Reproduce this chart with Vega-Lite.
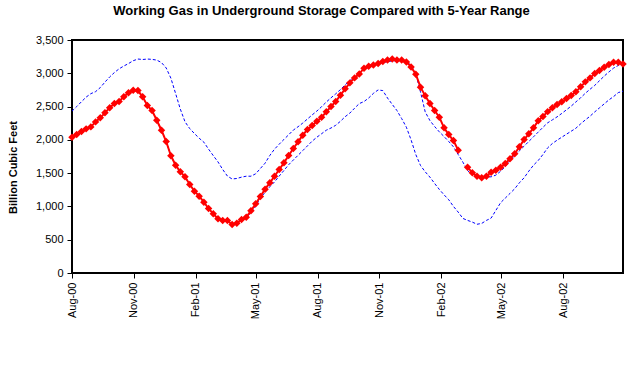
{
  "$schema": "https://vega.github.io/schema/vega-lite/v6.json",
  "width": 551,
  "height": 233,
  "autosize": "none",
  "padding": {"left": 72, "top": 40, "right": 16, "bottom": 93},
  "background": "white",
  "config": {
    "font": "Liberation Sans",
    "view": {"stroke": "#000000", "strokeWidth": 2},
    "axis": {
      "labelFont": "Liberation Sans", "labelFontSize": 11, "labelColor": "#000000",
      "tickColor": "#000000", "tickSize": 5, "tickWidth": 1, "domain": false, "grid": false,
      "titleFont": "Liberation Sans", "titleFontSize": 11, "titleFontWeight": "bold", "titleColor": "#000000"
    },
    "axisY": {"labelPadding": 4, "titlePadding": 17, "titleY": 127, "labelOverlap": false, "labelFlush": false},
    "axisX": {"labelPadding": 4}
  },
  "title": {
    "text": "Working Gas in Underground Storage Compared with 5-Year Range",
    "anchor": "middle", "frame": "group", "dx": -26, "offset": 16,
    "font": "Liberation Sans", "fontSize": 13, "fontWeight": "bold", "color": "#000000"
  },
  "datasets": {
    "w": [
      {"d": "2000-08-04", "gas": 2040, "hi": 2431, "lo": 2040},
      {"d": "2000-08-11", "gas": 2080, "hi": 2500, "lo": 2080},
      {"d": "2000-08-18", "gas": 2125, "hi": 2572, "lo": 2125},
      {"d": "2000-08-25", "gas": 2165, "hi": 2642, "lo": 2165},
      {"d": "2000-09-01", "gas": 2195, "hi": 2694, "lo": 2195},
      {"d": "2000-09-08", "gas": 2270, "hi": 2724, "lo": 2270},
      {"d": "2000-09-15", "gas": 2331, "hi": 2785, "lo": 2331},
      {"d": "2000-09-22", "gas": 2406, "hi": 2868, "lo": 2406},
      {"d": "2000-09-29", "gas": 2481, "hi": 2945, "lo": 2481},
      {"d": "2000-10-06", "gas": 2546, "hi": 3011, "lo": 2546},
      {"d": "2000-10-13", "gas": 2576, "hi": 3067, "lo": 2576},
      {"d": "2000-10-20", "gas": 2646, "hi": 3109, "lo": 2646},
      {"d": "2000-10-27", "gas": 2706, "hi": 3146, "lo": 2706},
      {"d": "2000-11-03", "gas": 2746, "hi": 3189, "lo": 2746},
      {"d": "2000-11-10", "gas": 2741, "hi": 3214, "lo": 2741},
      {"d": "2000-11-17", "gas": 2646, "hi": 3207, "lo": 2646},
      {"d": "2000-11-24", "gas": 2516, "hi": 3214, "lo": 2516},
      {"d": "2000-12-01", "gas": 2441, "hi": 3209, "lo": 2441},
      {"d": "2000-12-08", "gas": 2295, "hi": 3198, "lo": 2295},
      {"d": "2000-12-15", "gas": 2145, "hi": 3161, "lo": 2145},
      {"d": "2000-12-22", "gas": 1975, "hi": 3080, "lo": 1975},
      {"d": "2000-12-29", "gas": 1762, "hi": 2926, "lo": 1762},
      {"d": "2001-01-05", "gas": 1620, "hi": 2696, "lo": 1620},
      {"d": "2001-01-12", "gas": 1520, "hi": 2462, "lo": 1520},
      {"d": "2001-01-19", "gas": 1445, "hi": 2271, "lo": 1445},
      {"d": "2001-01-26", "gas": 1329, "hi": 2169, "lo": 1329},
      {"d": "2001-02-02", "gas": 1229, "hi": 2095, "lo": 1229},
      {"d": "2001-02-09", "gas": 1154, "hi": 2025, "lo": 1154},
      {"d": "2001-02-16", "gas": 1064, "hi": 1965, "lo": 1064},
      {"d": "2001-02-23", "gas": 969, "hi": 1860, "lo": 969},
      {"d": "2001-03-02", "gas": 889, "hi": 1763, "lo": 889},
      {"d": "2001-03-09", "gas": 814, "hi": 1669, "lo": 814},
      {"d": "2001-03-16", "gas": 789, "hi": 1555, "lo": 789},
      {"d": "2001-03-23", "gas": 789, "hi": 1456, "lo": 789},
      {"d": "2001-03-30", "gas": 729, "hi": 1412, "lo": 729},
      {"d": "2001-04-06", "gas": 749, "hi": 1420, "lo": 749},
      {"d": "2001-04-13", "gas": 804, "hi": 1440, "lo": 804},
      {"d": "2001-04-20", "gas": 839, "hi": 1454, "lo": 830},
      {"d": "2001-04-27", "gas": 934, "hi": 1454, "lo": 910},
      {"d": "2001-05-04", "gas": 1039, "hi": 1490, "lo": 1000},
      {"d": "2001-05-11", "gas": 1149, "hi": 1570, "lo": 1128},
      {"d": "2001-05-18", "gas": 1259, "hi": 1650, "lo": 1210},
      {"d": "2001-05-25", "gas": 1354, "hi": 1765, "lo": 1295},
      {"d": "2001-06-01", "gas": 1454, "hi": 1860, "lo": 1368},
      {"d": "2001-06-08", "gas": 1555, "hi": 1935, "lo": 1456},
      {"d": "2001-06-15", "gas": 1655, "hi": 2006, "lo": 1540},
      {"d": "2001-06-22", "gas": 1765, "hi": 2076, "lo": 1626},
      {"d": "2001-06-29", "gas": 1870, "hi": 2147, "lo": 1697},
      {"d": "2001-07-06", "gas": 1970, "hi": 2197, "lo": 1768},
      {"d": "2001-07-13", "gas": 2070, "hi": 2252, "lo": 1838},
      {"d": "2001-07-20", "gas": 2155, "hi": 2314, "lo": 1910},
      {"d": "2001-07-27", "gas": 2215, "hi": 2375, "lo": 1981},
      {"d": "2001-08-03", "gas": 2280, "hi": 2433, "lo": 2040},
      {"d": "2001-08-10", "gas": 2340, "hi": 2498, "lo": 2092},
      {"d": "2001-08-17", "gas": 2421, "hi": 2568, "lo": 2145},
      {"d": "2001-08-24", "gas": 2501, "hi": 2632, "lo": 2178},
      {"d": "2001-08-31", "gas": 2576, "hi": 2691, "lo": 2219},
      {"d": "2001-09-07", "gas": 2671, "hi": 2755, "lo": 2279},
      {"d": "2001-09-14", "gas": 2766, "hi": 2826, "lo": 2348},
      {"d": "2001-09-21", "gas": 2856, "hi": 2891, "lo": 2402},
      {"d": "2001-09-28", "gas": 2931, "hi": 2941, "lo": 2475},
      {"d": "2001-10-05", "gas": 2991, "hi": 3010, "lo": 2545},
      {"d": "2001-10-12", "gas": 3076, "hi": 3060, "lo": 2575},
      {"d": "2001-10-19", "gas": 3106, "hi": 3090, "lo": 2629},
      {"d": "2001-10-26", "gas": 3126, "hi": 3120, "lo": 2698},
      {"d": "2001-11-02", "gas": 3146, "hi": 3140, "lo": 2750},
      {"d": "2001-11-09", "gas": 3176, "hi": 3160, "lo": 2740},
      {"d": "2001-11-16", "gas": 3201, "hi": 3175, "lo": 2628},
      {"d": "2001-11-23", "gas": 3216, "hi": 3185, "lo": 2533},
      {"d": "2001-11-30", "gas": 3201, "hi": 3190, "lo": 2440},
      {"d": "2001-12-07", "gas": 3201, "hi": 3188, "lo": 2320},
      {"d": "2001-12-14", "gas": 3171, "hi": 3175, "lo": 2190},
      {"d": "2001-12-21", "gas": 3096, "hi": 3120, "lo": 2000},
      {"d": "2001-12-28", "gas": 2986, "hi": 2990, "lo": 1780},
      {"d": "2002-01-04", "gas": 2791, "hi": 2720, "lo": 1615},
      {"d": "2002-01-11", "gas": 2661, "hi": 2420, "lo": 1520},
      {"d": "2002-01-18", "gas": 2546, "hi": 2290, "lo": 1440},
      {"d": "2002-01-25", "gas": 2441, "hi": 2200, "lo": 1345},
      {"d": "2002-02-01", "gas": 2341, "hi": 2120, "lo": 1255},
      {"d": "2002-02-08", "gas": 2181, "hi": 2050, "lo": 1175},
      {"d": "2002-02-15", "gas": 2080, "hi": 1975, "lo": 1100},
      {"d": "2002-02-22", "gas": 1990, "hi": 1895, "lo": 1000},
      {"d": "2002-03-01", "gas": 1845, "hi": 1780, "lo": 915},
      {"d": "2002-03-08", "gas": null, "hi": 1665, "lo": 820},
      {"d": "2002-03-15", "gas": 1590, "hi": 1540, "lo": 790},
      {"d": "2002-03-22", "gas": 1505, "hi": 1468, "lo": 765},
      {"d": "2002-03-29", "gas": 1454, "hi": 1427, "lo": 732},
      {"d": "2002-04-05", "gas": 1430, "hi": 1418, "lo": 745},
      {"d": "2002-04-12", "gas": 1454, "hi": 1440, "lo": 790},
      {"d": "2002-04-19", "gas": 1514, "hi": 1445, "lo": 825},
      {"d": "2002-04-26", "gas": 1545, "hi": 1470, "lo": 940},
      {"d": "2002-05-03", "gas": 1590, "hi": 1528, "lo": 1055},
      {"d": "2002-05-10", "gas": 1645, "hi": 1598, "lo": 1125},
      {"d": "2002-05-17", "gas": 1715, "hi": 1688, "lo": 1195},
      {"d": "2002-05-24", "gas": 1792, "hi": 1765, "lo": 1265},
      {"d": "2002-05-31", "gas": 1895, "hi": 1835, "lo": 1355},
      {"d": "2002-06-07", "gas": 2005, "hi": 1905, "lo": 1430},
      {"d": "2002-06-14", "gas": 2090, "hi": 1976, "lo": 1530},
      {"d": "2002-06-21", "gas": 2181, "hi": 2046, "lo": 1620},
      {"d": "2002-06-28", "gas": 2288, "hi": 2117, "lo": 1690},
      {"d": "2002-07-05", "gas": 2350, "hi": 2188, "lo": 1780},
      {"d": "2002-07-12", "gas": 2424, "hi": 2256, "lo": 1880},
      {"d": "2002-07-19", "gas": 2481, "hi": 2300, "lo": 1945},
      {"d": "2002-07-26", "gas": 2531, "hi": 2345, "lo": 1995},
      {"d": "2002-08-02", "gas": 2571, "hi": 2397, "lo": 2040},
      {"d": "2002-08-09", "gas": 2621, "hi": 2452, "lo": 2085},
      {"d": "2002-08-16", "gas": 2666, "hi": 2507, "lo": 2130},
      {"d": "2002-08-23", "gas": 2721, "hi": 2570, "lo": 2175},
      {"d": "2002-08-30", "gas": 2796, "hi": 2631, "lo": 2240},
      {"d": "2002-09-06", "gas": 2871, "hi": 2700, "lo": 2300},
      {"d": "2002-09-13", "gas": 2931, "hi": 2760, "lo": 2355},
      {"d": "2002-09-20", "gas": 2996, "hi": 2818, "lo": 2420},
      {"d": "2002-09-27", "gas": 3041, "hi": 2888, "lo": 2480},
      {"d": "2002-10-04", "gas": 3091, "hi": 2957, "lo": 2540},
      {"d": "2002-10-11", "gas": 3131, "hi": 3020, "lo": 2600},
      {"d": "2002-10-18", "gas": 3166, "hi": 3078, "lo": 2650},
      {"d": "2002-10-25", "gas": 3166, "hi": 3118, "lo": 2710},
      {"d": "2002-11-01", "gas": 3141, "hi": 3135, "lo": 2731}
    ]
  },
  "data": {"name": "w"},
  "encoding": {
    "x": {
      "field": "d", "type": "temporal",
      "scale": {"type": "utc", "domain": [{"year": 2000, "month": 8, "date": 4, "utc": true}, {"year": 2002, "month": 11, "date": 1, "utc": true}]},
      "axis": {
        "title": null, "format": "%b-%y", "labelAngle": -90, "labelFlush": false, "labelOverlap": false,
        "values": [
          {"year": 2000, "month": 8, "date": 4, "utc": true},
          {"year": 2000, "month": 11, "date": 4, "utc": true},
          {"year": 2001, "month": 2, "date": 4, "utc": true},
          {"year": 2001, "month": 5, "date": 4, "utc": true},
          {"year": 2001, "month": 8, "date": 4, "utc": true},
          {"year": 2001, "month": 11, "date": 4, "utc": true},
          {"year": 2002, "month": 2, "date": 4, "utc": true},
          {"year": 2002, "month": 5, "date": 4, "utc": true},
          {"year": 2002, "month": 8, "date": 4, "utc": true}
        ]
      }
    }
  },
  "layer": [
    {
      "mark": {"type": "line", "color": "#0000FF", "strokeWidth": 1, "strokeDash": [3, 2]},
      "encoding": {"y": {"field": "hi", "type": "quantitative", "title": "Billion Cubic Feet",
        "scale": {"domain": [0, 3500], "nice": false, "zero": true},
        "axis": {"values": [0, 500, 1000, 1500, 2000, 2500, 3000, 3500], "format": ",d"}}}
    },
    {
      "mark": {"type": "line", "color": "#0000FF", "strokeWidth": 1, "strokeDash": [3, 2]},
      "encoding": {"y": {"field": "lo", "type": "quantitative", "title": "Billion Cubic Feet",
        "scale": {"domain": [0, 3500], "nice": false, "zero": true},
        "axis": {"values": [0, 500, 1000, 1500, 2000, 2500, 3000, 3500], "format": ",d"}}}
    },
    {
      "mark": {"type": "line", "color": "#FF0000", "strokeWidth": 2, "invalid": "break-paths-show-domains"},
      "encoding": {"y": {"field": "gas", "type": "quantitative", "title": "Billion Cubic Feet",
        "scale": {"domain": [0, 3500], "nice": false, "zero": true},
        "axis": {"values": [0, 500, 1000, 1500, 2000, 2500, 3000, 3500], "format": ",d"}}}
    },
    {
      "mark": {"type": "point", "shape": "diamond", "filled": true, "color": "#FF0000", "opacity": 1, "size": 56},
      "encoding": {"y": {"field": "gas", "type": "quantitative", "title": "Billion Cubic Feet",
        "scale": {"domain": [0, 3500], "nice": false, "zero": true},
        "axis": {"values": [0, 500, 1000, 1500, 2000, 2500, 3000, 3500], "format": ",d"}}}
    }
  ]
}
